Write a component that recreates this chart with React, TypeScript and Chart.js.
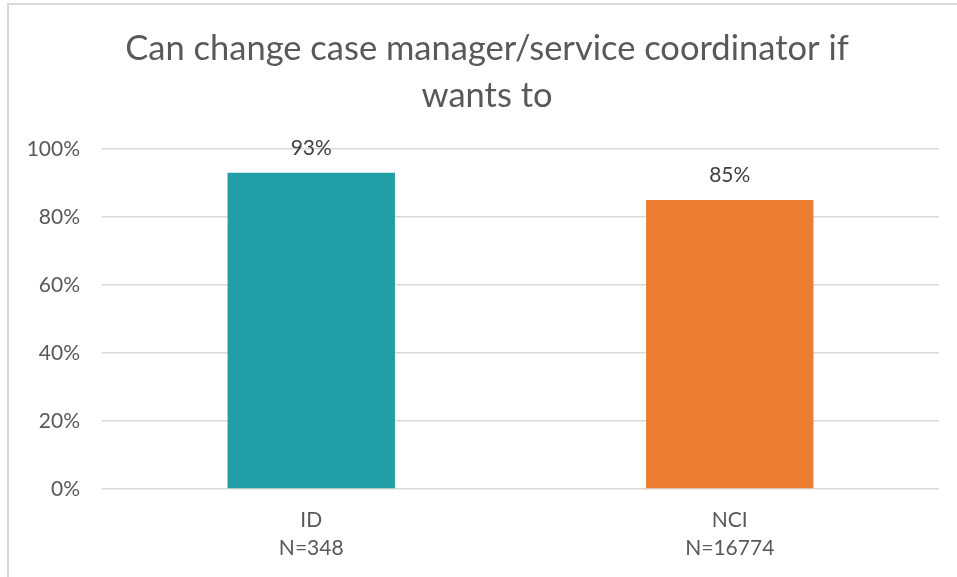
import React, { useEffect, useRef } from "react";
import { Chart, registerables } from "chart.js";

Chart.register(...registerables);

const titleLines = ["Can change case manager/service coordinator if", "wants to"];
const categories = ["ID", "NCI"];
const sampleSizes = ["N=348", "N=16774"];
const values = [93, 85];
const barColors = ["#219EA6", "#ED7D31"];
const yTicks = [0, 20, 40, 60, 80, 100];

const FONT = "Lato, 'Noto Sans', sans-serif";

const titlePlugin = {
  id: "customTitle",
  afterDraw(chart: any) {
    const ctx = chart.ctx;
    ctx.save();
    ctx.font = `34.5px ${FONT}`;
    ctx.fillStyle = "#595959";
    ctx.textAlign = "center";
    ctx.textBaseline = "middle";
    titleLines.forEach((line, i) => {
      ctx.fillText(line, 487, 48.5 + i * 47);
    });
    ctx.restore();
  },
};

const valueLabelPlugin = {
  id: "valueLabels",
  afterDatasetsDraw(chart: any) {
    const ctx = chart.ctx;
    const meta = chart.getDatasetMeta(0);
    ctx.save();
    ctx.font = `21px ${FONT}`;
    ctx.fillStyle = "#404040";
    ctx.textAlign = "center";
    ctx.textBaseline = "middle";
    meta.data.forEach((bar: any, i: number) => {
      ctx.fillText(`${values[i]}%`, bar.x, bar.y - 25);
    });
    ctx.restore();
  },
};

export default function App() {
  const ref = useRef<HTMLCanvasElement | null>(null);

  useEffect(() => {
    if (!ref.current) return;
    const chart = new Chart(ref.current, {
      type: "bar",
      data: {
        labels: categories.map((c, i) => [c, sampleSizes[i]]),
        datasets: [
          {
            data: values,
            backgroundColor: barColors,
            barPercentage: 0.4,
            categoryPercentage: 1,
          },
        ],
      },
      options: {
        animation: false,
        responsive: false,
        maintainAspectRatio: false,
        layout: { padding: { left: 0, right: 18, top: 149, bottom: 0 } },
        plugins: {
          legend: { display: false },
          tooltip: { enabled: false },
          title: { display: false },
        },
        scales: {
          x: {
            grid: { display: false, drawTicks: false },
            border: { display: false },
            ticks: {
              color: "#595959",
              font: { family: FONT, size: 21, lineHeight: "28px" },
              padding: 17,
              maxRotation: 0,
            },
            afterFit: (scale: any) => {
              scale.height = 88;
            },
          },
          y: {
            min: 0,
            max: 100,
            afterBuildTicks: (scale: any) => {
              scale.ticks = yTicks.map((v) => ({ value: v }));
            },
            grid: { color: "#d9d9d9", lineWidth: 1.5, drawTicks: false },
            border: { display: false },
            ticks: {
              color: "#595959",
              font: { family: FONT, size: 21 },
              padding: 22,
              callback: (v: any) => `${v}%`,
            },
            afterFit: (scale: any) => {
              scale.width = 102;
            },
          },
        },
      },
      plugins: [valueLabelPlugin, titlePlugin],
    });
    return () => chart.destroy();
  }, []);

  return (
    <div
      style={{
        position: "absolute",
        left: 0,
        top: 0,
        width: 957,
        height: 577,
        overflow: "hidden",
        background: "#ffffff",
      }}
    >
      <div
        style={{
          position: "absolute",
          left: 7,
          top: 3,
          width: 1000,
          height: 700,
          border: "2px solid #d9d9d9",
          boxSizing: "border-box",
        }}
      />
      <canvas
        ref={ref}
        width={957}
        height={577}
        style={{ position: "absolute", left: 0, top: 0, width: 957, height: 577 }}
      />
    </div>
  );
}
